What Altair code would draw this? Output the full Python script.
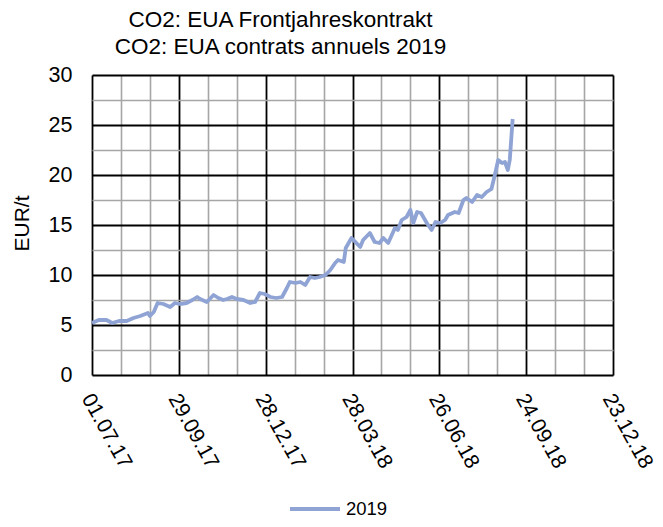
import altair as alt
import pandas as pd

FONT = "Liberation Sans"

title_lines = ["CO2: EUA Frontjahreskontrakt", "CO2: EUA contrats annuels 2019"]
y_title = "EUR/t"
series_name = "2019"

dates = [
    "2017-07-01", "2017-07-08", "2017-07-16", "2017-07-22", "2017-07-29", "2017-08-06",
    "2017-08-13", "2017-08-20", "2017-08-28", "2017-08-30", "2017-09-03", "2017-09-07",
    "2017-09-13", "2017-09-20", "2017-09-25", "2017-09-30", "2017-10-07", "2017-10-13",
    "2017-10-18", "2017-10-21", "2017-10-28", "2017-11-04", "2017-11-09", "2017-11-14",
    "2017-11-18", "2017-11-23", "2017-11-28", "2017-12-05", "2017-12-12", "2017-12-17",
    "2017-12-22", "2017-12-27", "2018-01-02", "2018-01-08", "2018-01-14", "2018-01-19",
    "2018-01-22", "2018-01-28", "2018-02-02", "2018-02-07", "2018-02-12", "2018-02-17",
    "2018-02-22", "2018-02-28", "2018-03-05", "2018-03-10", "2018-03-13", "2018-03-19",
    "2018-03-21", "2018-03-27", "2018-03-31", "2018-04-05", "2018-04-08", "2018-04-15",
    "2018-04-20", "2018-04-25", "2018-04-29", "2018-05-04", "2018-05-11", "2018-05-14",
    "2018-05-18", "2018-05-23", "2018-05-27", "2018-05-30", "2018-06-03", "2018-06-07",
    "2018-06-13", "2018-06-18", "2018-06-22", "2018-06-27", "2018-07-02", "2018-07-05",
    "2018-07-12", "2018-07-16", "2018-07-21", "2018-07-24", "2018-07-30", "2018-08-04",
    "2018-08-09", "2018-08-14", "2018-08-19", "2018-08-23", "2018-08-26", "2018-08-30",
    "2018-09-02", "2018-09-05", "2018-09-07", "2018-09-10",
]
values = [
    5.2, 5.5, 5.5, 5.2, 5.4, 5.4,
    5.7, 5.9, 6.2, 5.9, 6.3, 7.2,
    7.1, 6.8, 7.2, 7.1, 7.2, 7.5,
    7.8, 7.6, 7.3, 8.0, 7.7, 7.5,
    7.6, 7.8, 7.6, 7.5, 7.2, 7.3,
    8.2, 8.1, 7.8, 7.7, 7.8, 8.7,
    9.3, 9.2, 9.3, 9.0, 9.8, 9.7,
    9.8, 10.0, 10.5, 11.2, 11.5, 11.3,
    12.7, 13.7, 13.3, 12.8, 13.5, 14.2,
    13.3, 13.2, 13.7, 13.2, 14.7, 14.5,
    15.5, 15.8, 16.5, 15.2, 16.3, 16.2,
    15.2, 14.5, 15.3, 15.2, 15.5, 16.0,
    16.3, 16.2, 17.5, 17.7, 17.3, 18.0,
    17.8, 18.3, 18.6, 20.2, 21.5, 21.2,
    21.3, 20.5, 21.5, 25.6,
]

x_ticks = [
    "2017-07-01", "2017-07-31", "2017-08-30", "2017-09-29", "2017-10-29", "2017-11-28",
    "2017-12-28", "2018-01-27", "2018-02-26", "2018-03-28", "2018-04-27", "2018-05-27",
    "2018-06-26", "2018-07-26", "2018-08-25", "2018-09-24", "2018-10-24", "2018-11-23",
    "2018-12-23",
]
y_ticks = [0, 2.5, 5, 7.5, 10, 12.5, 15, 17.5, 20, 22.5, 25, 27.5, 30]


def dt(s):
    y, m, d = (int(p) for p in s.split("-"))
    return alt.DateTime(year=y, month=m, date=d)


df = pd.DataFrame({"date": pd.to_datetime(dates), "value": values, "series": series_name})

major_x = "round((datum.value - datetime(2017,6,1)) / 864e5) % 90 == 0"
major_y = "datum.value % 5 == 0"

chart = (
    alt.Chart(df)
    .mark_line(strokeWidth=3.8, strokeJoin="round")
    .encode(
        x=alt.X(
            "date:T",
            scale=alt.Scale(domain=[dt(x_ticks[0]), dt(x_ticks[-1])], nice=False),
            axis=alt.Axis(
                values=[dt(s) for s in x_ticks],
                format="%d.%m.%y",
                labelExpr=f"{major_x} ? datum.label : ''",
                labelAngle=61,
                labelAlign="left",
                labelBaseline="middle",
                labelFontSize=21,
                labelFont=FONT,
                labelColor="black",
                labelPadding=20,
                labelOffset=-6,
                labelOverlap=False,
                labelFlush=False,
                ticks=False,
                domain=False,
                grid=True,
                gridColor={"condition": {"test": major_x, "value": "black"}, "value": "#a6a6a6"},
                gridWidth={"condition": {"test": major_x, "value": 1.8}, "value": 1.6},
                gridOpacity=1,
                title=None,
            ),
        ),
        y=alt.Y(
            "value:Q",
            scale=alt.Scale(domain=[0, 30], nice=False),
            axis=alt.Axis(
                values=y_ticks,
                labelExpr=f"{major_y} ? datum.label : ''",
                labelFontSize=21.5,
                labelFont=FONT,
                labelColor="black",
                labelPadding=20,
                ticks=False,
                domain=False,
                grid=True,
                gridColor={"condition": {"test": major_y, "value": "black"}, "value": "#a6a6a6"},
                gridWidth={"condition": {"test": major_y, "value": 1.8}, "value": 1.6},
                gridOpacity=1,
                title=y_title,
                titleFont=FONT,
                titleFontSize=21,
                titleFontWeight="normal",
                titleColor="black",
                titleX=-70,
                titleY=148,
                titleBaseline="middle",
            ),
        ),
        color=alt.Color(
            "series:N",
            scale=alt.Scale(domain=[series_name], range=["#8FA4D4"]),
            legend=alt.Legend(
                orient="none",
                legendX=196,
                legendY=407,
                title=None,
                symbolType="stroke",
                symbolSize=2500,
                symbolStrokeWidth=3.8,
                labelFontSize=18.5,
                labelFont=FONT,
                labelColor="black",
                labelOffset=4,
            ),
        ),
    )
    .properties(
        width=521,
        height=300,
        autosize=alt.AutoSizeParams(type="none"),
        padding={"left": 84, "top": 67, "right": 42, "bottom": 144},
        title=alt.TitleParams(
            text=title_lines,
            font=FONT,
            fontSize=22.5,
            fontWeight="normal",
            color="black",
            anchor="middle",
            dx=-72,
            offset=6,
            lineHeight=27,
        ),
    )
    .configure_view(stroke=None)
)

chart.save("out.html", embed_options={"renderer": "svg", "actions": False})
